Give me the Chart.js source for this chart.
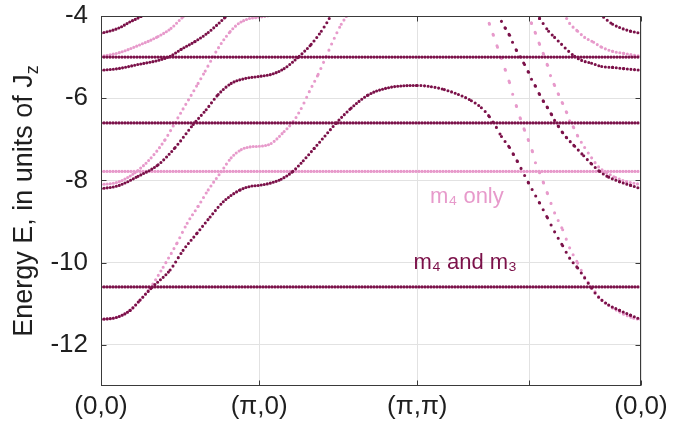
<!DOCTYPE html>
<html>
<head>
<meta charset="utf-8">
<script src="https://cdn.jsdelivr.net/npm/chart.js@4.4.1/dist/chart.umd.min.js"></script>
<style>
  html, body { margin: 0; padding: 0; background: #fff; }
</style>
</head>
<body>
<canvas id="bands" width="678" height="422"></canvas>
<script>
// path (0,0) -> (pi,0) -> (pi,pi) -> (0,0), x measured in units of pi along the path
const pathEnd = 2 + Math.SQRT2;
const xTickValues = [0, 1, 2, 2 + Math.SQRT2 / 2, pathEnd];
const xTickLabels = ['(0,0)', '(π,0)', '(π,π)', '', '(0,0)'];
const yTickValues = [-12, -10, -8, -6, -4];

// flat bands
const flatDark = [-5.0, -6.6, -10.59];
const flatPink = [-7.78];

// dispersive bands, "m4 and m3" (dark) - [k, E]
const d1a = [[0, -4.42], [0.108, -4.30], [0.19, -4.13], [0.253, -4.01], [0.29, -3.9]];
const d1b = [[3.14, -3.9], [3.178, -4.03], [3.235, -4.2], [3.279, -4.28], [3.349, -4.37], [3.414, -4.42]];
const d2a = [[0, -5.32], [0.108, -5.28], [0.234, -5.18], [0.361, -5.08], [0.437, -4.98], [0.507, -4.81],
    [0.595, -4.62], [0.678, -4.40], [0.785, -4.03], [0.81, -3.93]];
const d2b = [[2.75, -3.95], [2.773, -4.06], [2.83, -4.37], [2.868, -4.52], [2.912, -4.69], [2.957, -4.86],
    [2.995, -4.98], [3.039, -5.08], [3.102, -5.15], [3.166, -5.23], [3.235, -5.25], [3.305, -5.28], [3.414, -5.32]];
const d3a = [[0, -8.2], [0.108, -8.13], [0.234, -7.9], [0.361, -7.62], [0.469, -7.2], [0.583, -6.64],
    [0.665, -6.28], [0.741, -5.91], [0.823, -5.64], [0.912, -5.52], [1.0, -5.47], [1.076, -5.42],
    [1.158, -5.28], [1.253, -4.98], [1.329, -4.69], [1.393, -4.37], [1.443, -4.06], [1.462, -3.91]];
const d3b = [[2.513, -3.89], [2.532, -4.13], [2.557, -4.3], [2.583, -4.47], [2.602, -4.64], [2.627, -4.84],
    [2.678, -5.18], [2.703, -5.37], [2.722, -5.54], [2.747, -5.71], [2.773, -5.91], [2.798, -6.08],
    [2.823, -6.23], [2.849, -6.4], [2.868, -6.54], [2.893, -6.69], [2.919, -6.84], [2.944, -6.96],
    [2.995, -7.17], [3.052, -7.4], [3.102, -7.6], [3.153, -7.78], [3.21, -7.92], [3.279, -8.03],
    [3.349, -8.12], [3.414, -8.2]];
const d4 = [[0, -11.38], [0.101, -11.33], [0.184, -11.16], [0.247, -10.91], [0.323, -10.6], [0.437, -10.18],
    [0.519, -9.7], [0.608, -9.28], [0.69, -8.89], [0.773, -8.52], [0.88, -8.23], [0.95, -8.14], [1.0, -8.12],
    [1.076, -8.06], [1.139, -7.97], [1.213, -7.78], [1.279, -7.52], [1.348, -7.22], [1.418, -6.91],
    [1.488, -6.6], [1.582, -6.24], [1.689, -5.92], [1.79, -5.77], [1.899, -5.7], [2.0, -5.69],
    [2.089, -5.72], [2.171, -5.79], [2.26, -5.91], [2.342, -6.06], [2.405, -6.23], [2.456, -6.45],
    [2.5, -6.71], [2.532, -6.93], [2.583, -7.2], [2.608, -7.37], [2.633, -7.54], [2.703, -8.06],
    [2.773, -8.55], [2.823, -8.91], [2.868, -9.25], [2.919, -9.59], [2.963, -9.89], [3.014, -10.13],
    [3.058, -10.37], [3.102, -10.62], [3.146, -10.84], [3.21, -11.03], [3.279, -11.16], [3.349, -11.28],
    [3.414, -11.38]];

// dispersive bands, "m4 only" (pink)
const p1a = [[0, -4.98], [0.108, -4.9], [0.234, -4.72], [0.361, -4.5], [0.443, -4.3], [0.519, -4.02], [0.55, -3.92]];
const p1b = [[2.925, -3.95], [2.944, -4.06], [2.963, -4.18], [3.014, -4.37], [3.058, -4.52], [3.115, -4.64],
    [3.166, -4.76], [3.235, -4.86], [3.305, -4.91], [3.414, -4.98]];
const p2a = [[0, -8.1], [0.108, -8.04], [0.215, -7.81], [0.317, -7.45], [0.405, -7.01], [0.469, -6.59],
    [0.519, -6.26], [0.57, -5.93], [0.614, -5.64], [0.659, -5.34], [0.709, -4.99], [0.76, -4.67],
    [0.817, -4.38], [0.868, -4.19], [0.931, -4.07], [1.0, -4.03], [1.076, -3.98], [1.15, -3.9]];
const p2b = [[2.698, -3.9], [2.722, -4.18], [2.747, -4.42], [2.773, -4.69], [2.798, -4.93], [2.823, -5.2],
    [2.842, -5.45], [2.868, -5.69], [2.893, -5.91], [2.919, -6.13], [2.944, -6.35], [2.963, -6.55],
    [2.989, -6.72], [3.014, -6.92], [3.058, -7.2], [3.102, -7.45], [3.146, -7.67], [3.197, -7.81],
    [3.254, -7.93], [3.324, -8.03], [3.414, -8.1]];
const p3a = [[0, -11.38], [0.095, -11.33], [0.184, -11.16], [0.247, -10.91], [0.31, -10.62], [0.393, -10.11],
    [0.481, -9.52], [0.545, -9.04], [0.614, -8.63], [0.678, -8.23], [0.76, -7.79], [0.823, -7.45],
    [0.887, -7.25], [0.95, -7.18], [1.0, -7.17], [1.076, -7.1], [1.158, -6.81], [1.215, -6.57],
    [1.266, -6.25], [1.317, -5.84], [1.373, -5.42], [1.424, -4.98], [1.475, -4.54], [1.519, -4.2],
    [1.551, -4.01], [1.57, -3.86]];
const p3b = [[2.437, -3.89], [2.456, -4.2], [2.481, -4.47], [2.507, -4.76], [2.532, -5.03], [2.557, -5.32],
    [2.583, -5.62], [2.602, -5.89], [2.627, -6.2], [2.652, -6.5], [2.678, -6.78], [2.703, -7.03],
    [2.728, -7.3], [2.747, -7.57], [2.773, -7.81], [2.798, -8.06], [2.823, -8.32], [2.868, -8.79],
    [2.919, -9.2], [2.963, -9.64], [3.014, -10.01], [3.058, -10.35], [3.102, -10.59], [3.166, -10.91],
    [3.235, -11.1], [3.305, -11.25], [3.368, -11.35], [3.414, -11.38]];

const darkBands = [d1a, d1b, d2a, d2b, d3a, d3b, d4];
const pinkBands = [p1a, p1b, p2a, p2b, p3a, p3b];

const DARK = '#7b1149';
const PINK = '#e79acb';
const FONT = "'Liberation Sans', Arial, sans-serif";

// the original samples k evenly, so steep parts of a band show wider gaps between dots
function kStepDash(c) {
    const dx = c.p1.x - c.p0.x;
    const dy = c.p1.y - c.p0.y;
    const step = c.p0.parsed.x >= 2 ? 3.6 : 2.7;
    const gap = dx > 0 ? step * Math.hypot(dx, dy) / dx : step;
    return [0, Math.max(3.1, Math.min(gap, 12))];
}

function dotted(data, color, gap) {
    return {
        data: data,
        showLine: true,
        borderColor: color,
        borderWidth: 3.1,
        borderDash: [0, gap],
        borderCapStyle: 'round',
        pointRadius: 0,
        pointHoverRadius: 0,
        tension: 0.4,
        cubicInterpolationMode: 'monotone',
        fill: false
    };
}

function band(data, color) {
    const ds = dotted(data, color, 3.4);
    ds.segment = { borderDash: kStepDash };
    return ds;
}

// first dataset ends up on top
const datasets = [];
flatDark.forEach(e => datasets.push(dotted([[0, e], [pathEnd, e]], DARK, 3.0)));
darkBands.forEach(b => datasets.push(band(b, DARK)));
flatPink.forEach(e => datasets.push(dotted([[0, e], [pathEnd, e]], PINK, 3.0)));
pinkBands.forEach(b => datasets.push(band(b, PINK)));

const decor = {
    id: 'decor',
    afterDatasetsDraw(chart) {
        const { ctx, chartArea: a, scales: { x, y } } = chart;
        ctx.save();
        // box + inward ticks
        ctx.strokeStyle = '#3a3a3a';
        ctx.lineWidth = 1;
        const L = Math.round(a.left) + 0.5, R = Math.round(a.right) - 0.5;
        const T = Math.round(a.top) + 0.5, B = Math.round(a.bottom) - 0.5;
        ctx.strokeRect(L, T, R - L, B - T);
        ctx.beginPath();
        xTickValues.forEach(v => {
            const px = Math.round(x.getPixelForValue(v)) + 0.5;
            ctx.moveTo(px, B); ctx.lineTo(px, B - 5);
            ctx.moveTo(px, T); ctx.lineTo(px, T + 5);
        });
        yTickValues.forEach(v => {
            const py = Math.round(y.getPixelForValue(v)) + 0.5;
            ctx.moveTo(L, py); ctx.lineTo(L + 5, py);
            ctx.moveTo(R, py); ctx.lineTo(R - 5, py);
        });
        ctx.stroke();

        // band labels
        ctx.textAlign = 'left';
        ctx.textBaseline = 'alphabetic';
        ctx.font = '22px ' + FONT;
        ctx.fillStyle = PINK;
        ctx.fillText('m₄ only', x.getPixelForValue(2.08), y.getPixelForValue(-8.55));
        ctx.fillStyle = DARK;
        ctx.fillText('m₄ and m₃', x.getPixelForValue(1.976), y.getPixelForValue(-10.16));

        // y axis title with subscript z
        const main = 'Energy E, in units of J';
        ctx.font = '27px ' + FONT;
        const w1 = ctx.measureText(main).width;
        ctx.font = '18px ' + FONT;
        const w2 = ctx.measureText('z').width;
        ctx.translate(32, 201);
        ctx.rotate(-Math.PI / 2);
        ctx.fillStyle = '#1f1f1f';
        ctx.font = '27px ' + FONT;
        ctx.fillText(main, -(w1 + w2) / 2, 0);
        ctx.font = '18px ' + FONT;
        ctx.fillText('z', -(w1 + w2) / 2 + w1, 6);
        ctx.restore();
    }
};

function noPad(s) {
    s.paddingTop = 0;
    s.paddingBottom = 0;
    s.paddingLeft = 0;
    s.paddingRight = 0;
}

new Chart(document.getElementById('bands'), {
    type: 'scatter',
    data: { datasets: datasets },
    options: {
        responsive: false,
        animation: false,
        events: [],
        layout: { padding: { top: 16, right: 37, left: 0, bottom: 0 } },
        plugins: { legend: { display: false }, tooltip: { enabled: false } },
        scales: {
            x: {
                type: 'linear',
                min: 0,
                max: pathEnd,
                afterBuildTicks: s => { s.ticks = xTickValues.map(v => ({ value: v })); },
                afterFit: s => { s.height = 36; noPad(s); },
                ticks: {
                    autoSkip: false,
                    maxRotation: 0,
                    padding: 5,
                    color: '#1f1f1f',
                    font: { family: FONT, size: 26 },
                    callback: (v, i) => xTickLabels[i]
                },
                grid: { color: '#e2e2e2', drawTicks: false },
                border: { display: false }
            },
            y: {
                type: 'linear',
                min: -13,
                max: -4,
                afterBuildTicks: s => { s.ticks = yTickValues.map(v => ({ value: v })); },
                afterFit: s => { s.width = 101; noPad(s); },
                ticks: {
                    padding: 13,
                    color: '#1f1f1f',
                    font: { family: FONT, size: 26 }
                },
                grid: { color: '#e2e2e2', drawTicks: false },
                border: { display: false }
            }
        }
    },
    plugins: [decor]
});
</script>
</body>
</html>
